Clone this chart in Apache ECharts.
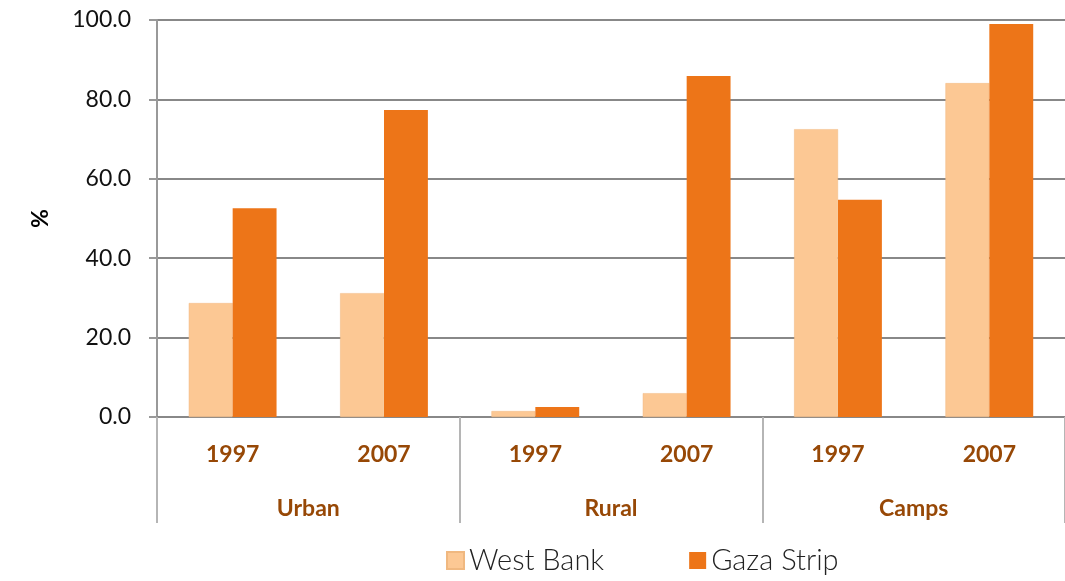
<!DOCTYPE html>
<html>
<head>
<meta charset="utf-8">
<script src="https://cdn.jsdelivr.net/npm/echarts@6/dist/echarts.min.js"></script>
<style>
  html, body { margin: 0; padding: 0; background: #fff; }
  #chart { width: 1065px; height: 581px; }
</style>
</head>
<body>
<div id="chart"></div>
<script>
// data
var years = ['1997', '2007', '1997', '2007', '1997', '2007'];
var groups = ['Urban', 'Rural', 'Camps'];
var westBank = [28.7, 31.2, 1.5, 6.0, 72.5, 84.1];
var gazaStrip = [52.6, 77.3, 2.5, 85.9, 54.7, 99.0];
var yTicks = { min: 0, max: 100, interval: 20 };

var chart = echarts.init(document.getElementById('chart'));
var font = 'Lato, "Open Sans", sans-serif';

chart.setOption({
  animation: false,
  grid: { left: 157, right: -1, top: 20, bottom: 164 },
  legend: {
    bottom: 1,
    left: 441,
    itemWidth: 17,
    itemHeight: 17,
    itemGap: 85,
    icon: 'rect',
    textStyle: { fontFamily: font, fontSize: 29, color: '#222', fontWeight: 300 },
    data: ['West Bank', 'Gaza Strip']
  },
  xAxis: [
    {
      type: 'category',
      data: years,
      position: 'bottom',
      axisLine: { show: true, lineStyle: { color: '#888', width: 2 } },
      axisTick: { show: false },
      axisLabel: { margin: 26, fontFamily: font, fontSize: 23, fontWeight: 'bold', color: '#974806' }
    },
    {
      type: 'category',
      data: groups,
      position: 'bottom',
      axisLine: { show: false },
      axisTick: { show: true, length: 106, lineStyle: { color: '#b5b5b5', width: 2 } },
      axisLabel: { margin: 80, fontFamily: font, fontSize: 23, fontWeight: 'bold', color: '#974806' }
    }
  ],
  yAxis: {
    type: 'value',
    min: yTicks.min,
    max: yTicks.max,
    interval: yTicks.interval,
    name: '%',
    nameLocation: 'middle',
    nameGap: 105,
    nameRotate: 90,
    nameTextStyle: { fontFamily: font, fontSize: 23, fontWeight: 'bold', color: '#000' },
    axisLine: { show: true, lineStyle: { color: '#999', width: 2 } },
    axisTick: { show: true, length: 8, lineStyle: { color: '#999', width: 2 } },
    axisLabel: {
      margin: 26,
      fontFamily: font,
      fontSize: 23,
      color: '#111',
      formatter: function (v) { return v.toFixed(1); }
    },
    splitLine: { show: true, lineStyle: { color: '#888', width: 2 } }
  },
  series: [
    {
      name: 'West Bank',
      type: 'bar',
      data: westBank,
      barGap: '0%',
      barCategoryGap: '42%',
      itemStyle: { color: '#FCC894', borderColor: '#f0b880', borderWidth: 0.5 }
    },
    {
      name: 'Gaza Strip',
      type: 'bar',
      data: gazaStrip,
      itemStyle: { color: '#ED7518' }
    }
  ]
});
</script>
</body>
</html>
